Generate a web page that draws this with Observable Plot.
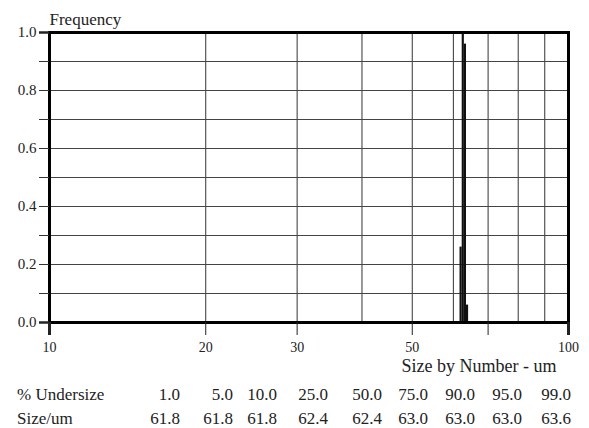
<!DOCTYPE html>
<html>
<head>
<meta charset="utf-8">
<script src="https://cdn.jsdelivr.net/npm/d3@7"></script>
<script src="https://cdn.jsdelivr.net/npm/@observablehq/plot@0.6"></script>
<style>
  html, body { margin: 0; padding: 0; background: #fff; }
  body { width: 589px; height: 428px; overflow: hidden; font-family: "Liberation Serif", "Times New Roman", Times, "DejaVu Serif", serif; color: #222; }
  svg text { font-family: "Liberation Serif", "Times New Roman", Times, "DejaVu Serif", serif; }
  #table { margin-top: 3px; font-size: 17px; line-height: 24px; }
  .row { display: grid; grid-template-columns: 113px 50px 53px 44px 51px 54px 46px 47px 47px 49px; padding-left: 17px; }
  .row span { text-align: right; white-space: nowrap; }
  .row span.lab { text-align: left; }
</style>
</head>
<body>
<div id="chart"></div>
<div id="table"></div>
<script>
// Histogram bins (size in um) and relative frequency
const binStart = [61.8, 62.4, 63.0, 63.6];
const binEnd   = [62.4, 63.0, 63.6, 64.2];
const freq     = [0.26, 1.0, 0.96, 0.06];

// Axis ticks
const xTickLabels = [10, 20, 30, 50, 70, 100];
const xGridLines  = [20, 30, 40, 50, 60, 70, 80, 90];
const yTicks      = [0, 0.1, 0.2, 0.3, 0.4, 0.5, 0.6, 0.7, 0.8, 0.9, 1.0];

// Percentile table
const undersizePct = [1.0, 5.0, 10.0, 25.0, 50.0, 75.0, 90.0, 95.0, 99.0];
const sizeUm       = [61.8, 61.8, 61.8, 62.4, 62.4, 63.0, 63.0, 63.0, 63.6];

const bins = binStart.map((s, i) => ({x1: s, x2: binEnd[i], y: freq[i]}));

const FONT = "'Liberation Serif', 'Times New Roman', Times, 'DejaVu Serif', serif";

const chart = Plot.plot({
  width: 589,
  height: 380,
  marginLeft: 49,
  marginRight: 21,
  marginTop: 32,
  marginBottom: 58,
  style: {fontFamily: FONT, fontSize: "14px", color: "#222", background: "#fff"},
  x: {type: "log", domain: [10, 100]},
  y: {domain: [0, 1]},
  marks: [
    Plot.gridX(xGridLines, {stroke: "#333", strokeOpacity: 1, strokeWidth: 1}),
    Plot.gridY(yTicks, {stroke: "#444", strokeOpacity: 1, strokeWidth: 1.2}),
    Plot.rectY(bins, {x1: "x1", x2: "x2", y: "y", fill: "#111", inset: 0}),
    Plot.frame({stroke: "#000", strokeWidth: 3}),
    Plot.axisX(xTickLabels, {tickSize: 13, tickPadding: 7, tickFormat: d => String(d), label: null, fontSize: 14, stroke: "#222"}),
    Plot.axisX([10, 100], {tickSize: 13, strokeWidth: 3, tickFormat: () => "", label: null}),
    Plot.axisY(yTicks, {tickSize: 10, tickPadding: 3, tickFormat: d => (Math.round(d * 10) % 2 === 0 ? d.toFixed(1) : ""), label: null, fontSize: 15, stroke: "#333"}),
    Plot.axisY([0, 1], {tickSize: 10, strokeWidth: 2.5, tickFormat: () => "", label: null}),
    Plot.text(["Frequency"], {frameAnchor: "top-left", textAnchor: "start", lineAnchor: "bottom", dy: -8, fontSize: 17, fill: "#222"}),
    Plot.text(["Size by Number - um"], {frameAnchor: "bottom-right", textAnchor: "end", lineAnchor: "bottom", dx: -12, dy: 49, fontSize: 18, fill: "#222"})
  ]
});
document.getElementById("chart").appendChild(chart);

const table = document.getElementById("table");
function addRow(label, values) {
  const row = document.createElement("div");
  row.className = "row";
  const lab = document.createElement("span");
  lab.className = "lab";
  lab.textContent = label;
  row.appendChild(lab);
  values.forEach(v => {
    const s = document.createElement("span");
    s.textContent = v.toFixed(1);
    row.appendChild(s);
  });
  table.appendChild(row);
}
addRow("% Undersize", undersizePct);
addRow("Size/um", sizeUm);
</script>
</body>
</html>
